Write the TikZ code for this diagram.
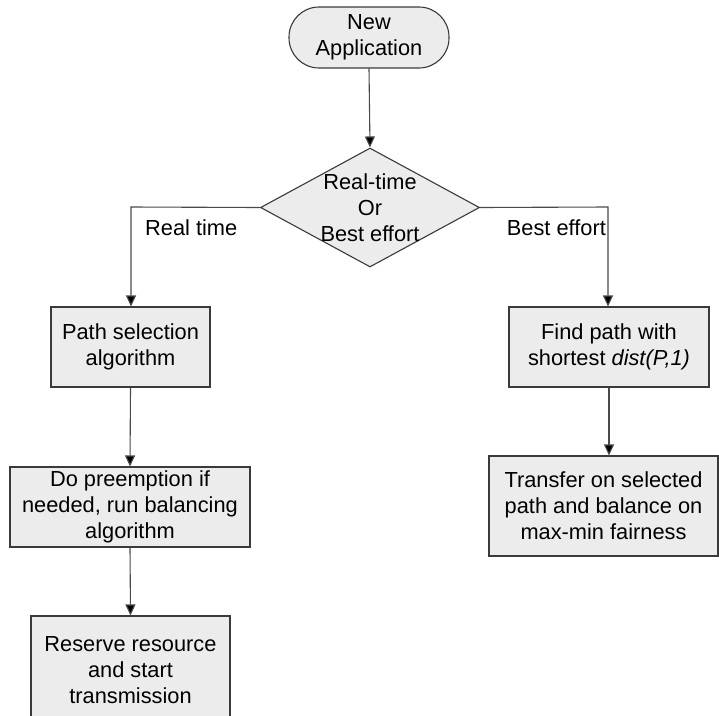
\documentclass[tikz,border=0pt]{standalone}
\usepackage{fontspec}
\setmainfont{Liberation Sans}
\usetikzlibrary{shapes.geometric,arrows.meta}
\definecolor{boxfill}{HTML}{ECECEC}
\definecolor{boxline}{HTML}{3A3A3A}
\definecolor{conn}{HTML}{4A4A4A}
\tikzset{
  lbl/.style={font=\fontsize{21.8}{26}\selectfont, text=black, inner sep=0pt, align=center},
  procbox/.style={lbl, draw=boxline, fill=boxfill, line width=1.1pt},
  startbox/.style={procbox, rounded corners=30pt, minimum width=160pt, minimum height=61pt},
  decision/.style={diamond, draw=boxline, fill=boxfill, line width=1.1pt, inner sep=0pt, minimum width=219pt, minimum height=119pt},
  conline/.style={draw=conn, line width=1.1pt},
  arr/.style={conline, -{Triangle[length=11pt,width=10pt,fill=black]}},
}
\begin{document}
\begin{tikzpicture}[x=1pt,y=-1pt]
\useasboundingbox (0,0) rectangle (719,715);
\clip (0,0) rectangle (719,715);
\node[startbox] (start) at (369,37.5) {New\\Application};
\node[decision] (dec) at (370,207.5) {};
\node[lbl] (dectext) at (370,207.5) {Real-time\\Or\\Best effort};
\node[procbox, minimum width=159pt, minimum height=80pt] (l1) at (130.5,347) {Path selection\\algorithm};
\node[procbox, minimum width=240pt, minimum height=80pt] (l2) at (130,507) {Do preemption if\\needed, run balancing\\algorithm};
\node[procbox, minimum width=199pt, minimum height=108pt] (l3) at (130.5,670) {Reserve resource\\and start\\transmission};
\node[procbox, minimum width=200pt, minimum height=80pt] (r1) at (609,347) {Find path with\\shortest \textit{dist(P,1)}};
\node[procbox, minimum width=229pt, minimum height=100pt] (r2) at (603.5,506) {Transfer on selected\\path and balance on\\max-min fairness};
\coordinate (lc) at (131,207);
\coordinate (rc) at (608,207);
\draw[arr] (start.south) -- (dec.north);
\draw[arr] (dec.west) -- (lc) -- (lc |- l1.north);
\draw[arr] (dec.east) -- (rc) -- (rc |- r1.north);
\draw[arr] (l1.south) -- (l2.north);
\draw[arr] (l2.south) -- (l3.north);
\draw[arr] (r1.south) -- (r1.south |- r2.north);
\node[lbl, anchor=base west] (rtlabel) at (145,235) {Real time};
\node[lbl, anchor=base east] (belabel) at (606,235) {Best effort};
\end{tikzpicture}
\end{document}
